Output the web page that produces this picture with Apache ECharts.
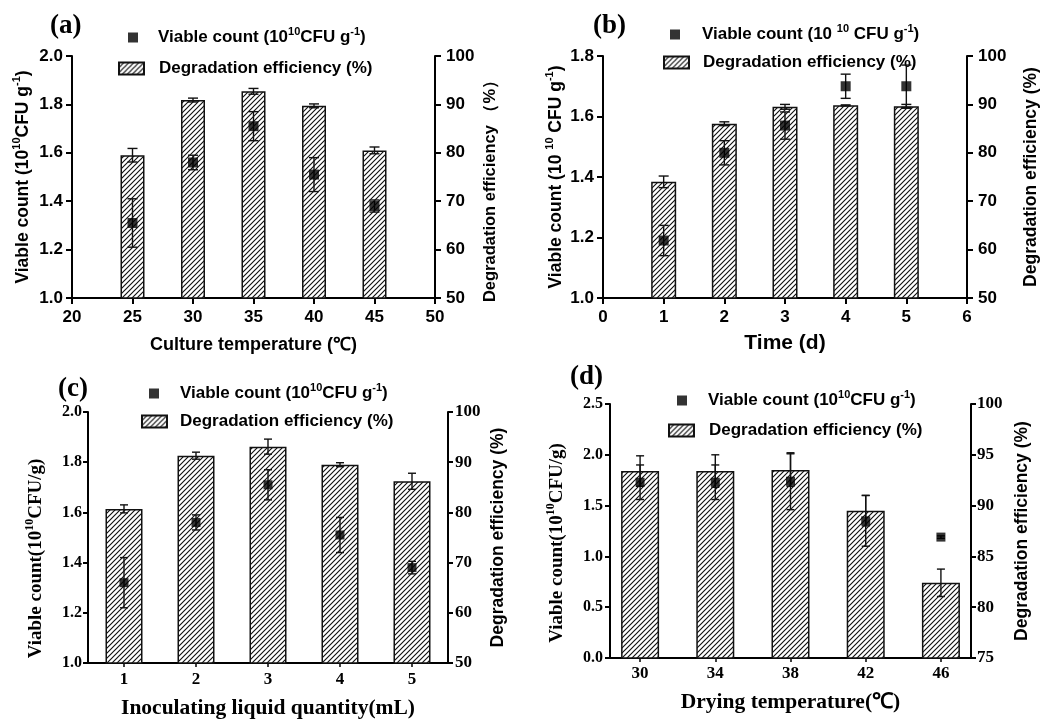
<!DOCTYPE html>
<html><head><meta charset="utf-8">
<script src="https://cdn.jsdelivr.net/npm/echarts@6/dist/echarts.min.js"></script>
<style>html,body{margin:0;padding:0;background:#fff}#c{width:1041px;height:720px}</style>
</head><body><div id="c"></div>
<script>
// ---------- data ----------
// Panel (a) culture temperature
const aTemp = [25, 30, 35, 40, 45];
const aDeg = [79.5, 90.9, 92.7, 89.7, 80.5];
const aDegErr = [1.4, 0.4, 0.6, 0.4, 0.7];
const aViable = [1.31, 1.56, 1.71, 1.51, 1.38];
const aViableErr = [0.10, 0.03, 0.06, 0.07, 0.025];
// Panel (b) time
const bTime = [1, 2, 3, 4, 5];
const bDeg = [74.0, 86.0, 89.5, 89.8, 89.6];
const bDegErr = [1.2, 0.4, 0.5, 0.1, 0.4];
const bViable = [1.19, 1.48, 1.57, 1.70, 1.70];
const bViableErr = [0.05, 0.04, 0.045, 0.04, 0.07];
// Panel (c) inoculating liquid quantity
const cQty = ['1', '2', '3', '4', '5'];
const cDeg = [80.7, 91.3, 93.1, 89.5, 86.2];
const cDegErr = [0.8, 0.7, 1.5, 0.4, 1.6];
const cViable = [1.32, 1.56, 1.71, 1.51, 1.38];
const cViableErr = [0.10, 0.03, 0.06, 0.07, 0.025];
// Panel (d) drying temperature
const dTemp = [30, 34, 38, 42, 46];
const dDeg = [93.4, 93.4, 93.5, 89.5, 82.4];
const dDegErr = [1.5, 1.6, 1.6, 1.5, 1.35];
const dViable = [1.73, 1.73, 1.74, 1.35, 1.19];
const dViableErr = [0.17, 0.17, 0.28, 0.25, 0.012];

const VIABLE = 'Viable count';
const DEG = 'Degradation efficiency (%)';

// ---------- styles ----------
const SANS = '"Liberation Sans", Arial, sans-serif';
const SERIF = '"Liberation Serif", "Times New Roman", serif';

function makeHatch() {
  const s = 5;
  const c = document.createElement('canvas');
  c.width = s; c.height = s;
  const g = c.getContext('2d');
  g.fillStyle = '#fff'; g.fillRect(0, 0, s, s);
  g.strokeStyle = '#111'; g.lineWidth = 1.15;
  g.beginPath();
  g.moveTo(-1, s + 1); g.lineTo(s + 1, -1);
  g.moveTo(-1, 1); g.lineTo(1, -1);
  g.moveTo(s - 1, s + 1); g.lineTo(s + 1, s - 1);
  g.stroke();
  return c;
}
const hatch = { image: makeHatch(), repeat: 'repeat' };

function richFor(font, fs, sfs) {
  return {
    t: { fontFamily: font, fontWeight: 'bold', fontSize: fs, color: '#000', lineHeight: fs + 6 },
    s: { fontFamily: font, fontWeight: 'bold', fontSize: sfs, color: '#000', verticalAlign: 'top', lineHeight: sfs + 1 }
  };
}

function errRender(capHalf, lw) {
  return function (params, api) {
    const x = api.value(0);
    const p1 = api.coord([x, api.value(1)]);
    const p2 = api.coord([x, api.value(2)]);
    const st = { stroke: '#111', lineWidth: lw };
    return { type: 'group', children: [
      { type: 'line', shape: { x1: p1[0], y1: p1[1], x2: p2[0], y2: p2[1] }, style: st },
      { type: 'line', shape: { x1: p1[0] - capHalf, y1: p1[1], x2: p1[0] + capHalf, y2: p1[1] }, style: st },
      { type: 'line', shape: { x1: p2[0] - capHalf, y1: p2[1], x2: p2[0] + capHalf, y2: p2[1] }, style: st }
    ] };
  };
}

const axLine = (w) => ({ show: true, onZero: false, lineStyle: { color: '#000', width: w } });
const axTick = (len, w) => ({ show: true, inside: false, length: len, lineStyle: { color: '#000', width: w } });

function xVal(gi, min, max, interval, font, fs, margin, name, nameFs, nameGap) {
  return {
    gridIndex: gi, type: 'value', min: min, max: max, interval: interval,
    axisLine: axLine(2), axisTick: axTick(6, 2), splitLine: { show: false },
    axisLabel: { fontFamily: font, fontWeight: 'bold', fontSize: fs, color: '#000', margin: margin },
    name: name, nameLocation: 'middle', nameGap: nameGap,
    nameTextStyle: { fontFamily: font, fontWeight: 'bold', fontSize: nameFs, color: '#000' }
  };
}
function yAx(gi, pos, min, max, interval, digits, font, fs, margin, name, nameGap, nameStyle, tickLen) {
  return {
    gridIndex: gi, type: 'value', position: pos, min: min, max: max, interval: interval,
    axisLine: axLine(2), axisTick: axTick(tickLen, 2), splitLine: { show: false },
    axisLabel: { fontFamily: font, fontWeight: 'bold', fontSize: fs, color: '#000', margin: margin,
      formatter: (v) => v.toFixed(digits) },
    name: name, nameLocation: 'middle', nameGap: nameGap, nameRotate: 90,
    nameTextStyle: nameStyle
  };
}

function panelSeries(gi, xs, deg, degErr, viable, viableErr, barW, symSize, cap) {
  const xv = (i) => xs[i];
  return [
    { type: 'bar', name: DEG, xAxisIndex: gi, yAxisIndex: 2 * gi + 1, barWidth: barW, z: 2,
      itemStyle: { color: hatch, borderColor: '#111', borderWidth: 1.5 },
      data: deg.map((v, i) => [xv(i), v]) },
    { type: 'custom', name: 'degErr' + gi, xAxisIndex: gi, yAxisIndex: 2 * gi + 1, z: 3,
      renderItem: errRender(cap, 1.4), encode: { x: 0, y: [1, 2] },
      data: deg.map((v, i) => [xv(i), v - degErr[i], v + degErr[i]]) },
    { type: 'custom', name: 'viaErr' + gi, xAxisIndex: gi, yAxisIndex: 2 * gi, z: 4,
      renderItem: errRender(cap, 1.4), encode: { x: 0, y: [1, 2] },
      data: viable.map((v, i) => [xv(i), v - viableErr[i], v + viableErr[i]]) },
    { type: 'scatter', name: VIABLE, xAxisIndex: gi, yAxisIndex: 2 * gi, z: 5,
      symbol: 'rect', symbolSize: symSize, itemStyle: { color: '#000' },
      data: viable.map((v, i) => [xv(i), v]) }
  ];
}

function legends(viableRich, padV, padD, lv, tv, ld, td) {
  const rich = Object.assign(richFor(SANS, 17, 11), { pv: { width: padV }, pd: { width: padD } });
  return [
    { data: [{ name: VIABLE, icon: 'rect', itemStyle: { color: '#000' } }], left: lv, top: tv, padding: 0, itemWidth: 10, itemHeight: 10,
      selectedMode: false, formatter: () => '{pv| }' + viableRich, textStyle: { rich: rich } },
    { data: [{ name: DEG, icon: 'rect' }], left: ld, top: td, padding: 0, itemWidth: 25, itemHeight: 12,
      selectedMode: false, formatter: () => '{pd| }{t|Degradation efficiency (%)}', textStyle: { rich: rich } }
  ];
}

const nameSans = (fs, pad) => ({ fontFamily: SANS, fontWeight: 'bold', fontSize: fs, color: '#000', padding: pad || 0, rich: richFor(SANS, fs, 11) });
const nameSerif = (fs, pad) => ({ fontFamily: SERIF, fontWeight: 'bold', fontSize: fs, color: '#000', padding: pad || 0, rich: richFor(SERIF, fs, 12) });

const vLegA = '{t|Viable count (10}{s|10}{t|CFU g}{s|-1}{t|)}';
const vLegB = '{t|Viable count (10 }{s|10}{t| CFU g}{s|-1}{t|)}';

const cIdx = cQty.map((q, i) => i);

const panelTitle = (t, l, tp) => ({ text: t, left: l, top: tp, padding: 0,
  textStyle: { fontFamily: SERIF, fontWeight: 'bold', fontSize: 27, color: '#000' } });

const option = {
  backgroundColor: '#fff',
  animation: false,
  title: [
    panelTitle('(a)', 50, 13),
    panelTitle('(b)', 593, 13),
    panelTitle('(c)', 58, 376),
    panelTitle('(d)', 570, 364)
  ],
  legend: [].concat(
    legends(vLegA, 15, 10, 128, 26, 118, 60),
    legends(vLegB, 17, 9, 670, 23, 663, 54),
    legends(vLegA, 16, 8, 149, 382, 141, 413),
    legends(vLegA, 16, 10, 677, 389, 668, 422)
  ),
  grid: [
    { left: 72, top: 56, width: 363, height: 242 },
    { left: 603, top: 56, width: 364, height: 242 },
    { left: 88, top: 412, width: 360, height: 255 },
    { left: 610, top: 404, width: 361, height: 254 }
  ],
  xAxis: [
    xVal(0, 20, 50, 5, SANS, 17, 11, 'Culture temperature (℃)', 18, 38),
    xVal(1, 0, 6, 1, SANS, 17, 11, 'Time (d)', 21, 35),
    { gridIndex: 2, type: 'category', data: cQty, boundaryGap: true,
      axisLine: axLine(2), axisTick: Object.assign(axTick(4, 1.5), { alignWithLabel: true }), splitLine: { show: false },
      axisLabel: { fontFamily: SERIF, fontWeight: 'bold', fontSize: 17, color: '#000', margin: 8 },
      name: 'Inoculating liquid quantity(mL)', nameLocation: 'middle', nameGap: 34,
      nameTextStyle: { fontFamily: SERIF, fontWeight: 'bold', fontSize: 21.5, color: '#000' } },
    { gridIndex: 3, type: 'value', min: 28.4, max: 47.6,
      axisLine: axLine(2), axisTick: Object.assign(axTick(4, 1.5), { customValues: dTemp }), splitLine: { show: false },
      axisLabel: { fontFamily: SERIF, fontWeight: 'bold', fontSize: 17, color: '#000', margin: 7, customValues: dTemp },
      name: 'Drying temperature(℃)', nameLocation: 'middle', nameGap: 33,
      nameTextStyle: { fontFamily: SERIF, fontWeight: 'bold', fontSize: 21.5, color: '#000' } }
  ],
  yAxis: [
    yAx(0, 'left', 1.0, 2.0, 0.2, 1, SANS, 17, 9, '{t|Viable count (10}{s|10}{t|CFU g}{s|-1}{t|)}', 37, nameSans(17.5), 6),
    yAx(0, 'right', 50, 100, 10, 0, SANS, 17, 11, '{t|Degradation efficiency （%）}', 44, nameSans(16.5, [0, 20, 0, 0]), 6),
    yAx(1, 'left', 1.0, 1.8, 0.2, 1, SANS, 17, 9, '{t|Viable count (10 }{s|10}{t| CFU g}{s|-1}{t|)}', 35, nameSans(17.5), 6),
    yAx(1, 'right', 50, 100, 10, 0, SANS, 17, 11, '{t|Degradation efficiency (%)}', 52, nameSans(17.5), 6),
    yAx(2, 'left', 1.0, 2.0, 0.2, 1, SERIF, 16, 6, '{t|Viable count(10}{s|10}{t|CFU/g)}', 39, nameSerif(19, [0, 42, 0, 0]), 5),
    yAx(2, 'right', 50, 100, 10, 0, SERIF, 17, 7, '{t|Degradation efficiency (%)}', 38, nameSans(17.5), 5),
    yAx(3, 'left', 0, 2.5, 0.5, 1, SERIF, 16, 7, '{t|Viable count(10}{s|10}{t|CFU/g)}', 40, nameSerif(19, [0, 24, 0, 0]), 5),
    yAx(3, 'right', 75, 100, 5, 0, SERIF, 17, 6, '{t|Degradation efficiency (%)}', 39, nameSans(17.5), 5)
  ],
  series: [].concat(
    panelSeries(0, aTemp, aDeg, aDegErr, aViable, aViableErr, 24, 10, 5),
    panelSeries(1, bTime, bDeg, bDegErr, bViable, bViableErr, 25, 10, 5),
    panelSeries(2, cIdx, cDeg, cDegErr, cViable, cViableErr, 37, 9, 4),
    panelSeries(3, dTemp, dDeg, dDegErr, dViable, dViableErr, 38, 9, 4)
  )
};

const chart = echarts.init(document.getElementById('c'), null, { renderer: 'canvas' });
chart.setOption(option);
</script></body></html>
